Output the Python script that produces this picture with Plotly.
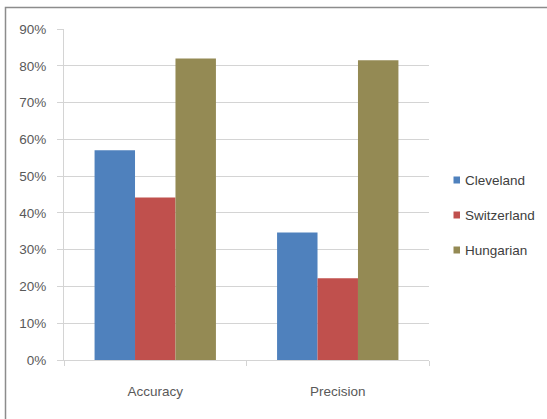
import plotly.graph_objects as go

# Data
categories = ["Accuracy", "Precision"]
series_names = ["Cleveland", "Switzerland", "Hungarian"]
cleveland = [0.57, 0.347]
switzerland = [0.442, 0.222]
hungarian = [0.82, 0.815]
y_ticks = [0.0, 0.1, 0.2, 0.3, 0.4, 0.5, 0.6, 0.7, 0.8, 0.9]

colors = ["#4F81BD", "#C0504D", "#948A54"]
values = [cleveland, switzerland, hungarian]

W, H = 547, 419
ML, MR, MT, MB = 64, 118, 29, 59
PW, PH = W - ML - MR, H - MT - MB

FONT = "Liberation Sans, Arial, sans-serif"
TXT = "#595959"
GRID = "#d4d4d4"


def px_x(px):
    return (px - ML) / PW


def px_y(py):
    return (H - MB - py) / PH


fig = go.Figure()
for name, vals, col in zip(series_names, values, colors):
    fig.add_trace(go.Bar(name=name, x=categories, y=vals,
                         marker=dict(color=col, line=dict(width=0)),
                         showlegend=False))

shapes = []
annotations = []
# Outer chart-area frame
shapes.append(dict(type="rect", xref="paper", yref="paper",
                   x0=px_x(5.5), x1=px_x(570), y0=px_y(440), y1=px_y(7.5),
                   line=dict(color="#8c8c8c", width=1.5), layer="below"))

# Legend keys and labels
legend_rows = [180, 215, 250]
for name, col, cy in zip(series_names, colors, legend_rows):
    shapes.append(dict(type="rect", xref="paper", yref="paper",
                       x0=px_x(453.5), x1=px_x(460), y0=px_y(cy + 3.5), y1=px_y(cy - 3.5),
                       fillcolor=col, line=dict(width=0)))
    annotations.append(dict(xref="paper", yref="paper", x=px_x(462.5), y=px_y(cy),
                            xanchor="left", yanchor="middle", showarrow=False,
                            text=name, font=dict(family=FONT, size=13.5, color="#404040")))

fig.update_layout(
    width=W, height=H,
    margin=dict(l=ML, r=MR, t=MT, b=MB, pad=0),
    paper_bgcolor="white", plot_bgcolor="white",
    barmode="group", bargap=0.335, bargroupgap=0,
    showlegend=False,
    font=dict(family=FONT, size=13.5, color=TXT),
    shapes=shapes, annotations=annotations,
)
fig.update_xaxes(
    showgrid=False, showline=True, linecolor=GRID, linewidth=1,
    ticks="outside", tickson="boundaries", ticklen=5, tickcolor=GRID,
    ticklabelstandoff=19, tickfont=dict(family=FONT, size=13.5, color=TXT),
)
fig.update_yaxes(
    range=[0, 0.9], tickvals=y_ticks, tickformat=".0%",
    showgrid=True, gridcolor=GRID, gridwidth=1,
    showline=True, linecolor=GRID, linewidth=1,
    ticks="outside", ticklen=6, tickcolor=GRID,
    ticklabelstandoff=8, zeroline=False,
    tickfont=dict(family=FONT, size=13.5, color=TXT),
)

fig.write_html("out.html")
